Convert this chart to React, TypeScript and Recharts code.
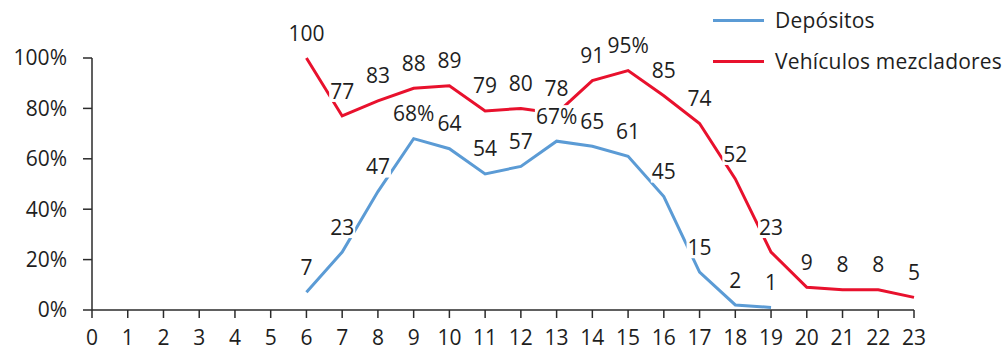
import { LabelList, Line, LineChart, XAxis, YAxis } from "recharts";

const AZUL = "#5b9bd5";
const ROJO = "#e8112d";
const TEXTO = "#1e1e1e";
const FUENTE = "'Open Sans', sans-serif";
const TAM = 21;

const horas = [0, 1, 2, 3, 4, 5, 6, 7, 8, 9, 10, 11, 12, 13, 14, 15, 16, 17, 18, 19, 20, 21, 22, 23];
const depositos = [null, null, null, null, null, null, 7, 23, 47, 68, 64, 54, 57, 67, 65, 61, 45, 15, 2, 1, null, null, null, null];
const mezcladores = [null, null, null, null, null, null, 100, 77, 83, 88, 89, 79, 80, 78, 91, 95, 85, 74, 52, 23, 9, 8, 8, 5];
// horas cuyo rótulo lleva el signo de porcentaje
const pctDepositos = [9, 13];
const pctMezcladores = [15];
const yTicks = [0, 20, 40, 60, 80, 100];

const rotulo = (v: number | null, h: number, pct: number[]) =>
  v == null ? null : pct.includes(h) ? `${v}%` : `${v}`;

const datos = horas.map((h, i) => ({
  hora: h,
  depositos: depositos[i],
  mezcladores: mezcladores[i],
  rotDep: rotulo(depositos[i], h, pctDepositos),
  rotMez: rotulo(mezcladores[i], h, pctMezcladores),
}));

// rótulo con fondo blanco que tapa las líneas que pasan por debajo
function Rotulo(props: any) {
  const { x, y, value } = props;
  if (value == null || x == null || y == null) return null;
  const txt = String(value);
  const w = txt.replace("%", "").length * TAM * 0.572 + (txt.includes("%") ? TAM * 0.83 : 0) + 2;
  const cy = y - 25;
  return (
    <g>
      <rect x={x - w / 2} y={cy - 11} width={w} height={22} fill="#fff" />
      <text x={x} y={cy} dy="0.36em" textAnchor="middle" fontSize={TAM} fontFamily={FUENTE} fill={TEXTO}>
        {txt}
      </text>
    </g>
  );
}

function Leyenda() {
  const filas = [
    { nombre: "Depósitos", color: AZUL, top: 20 },
    { nombre: "Vehículos mezcladores", color: ROJO, top: 61 },
  ];
  return (
    <>
      {filas.map((f) => (
        <div
          key={f.nombre}
          style={{ position: "absolute", left: 713, top: f.top - 15, height: 30, display: "flex", alignItems: "center" }}
        >
          <div style={{ width: 51, height: 3, background: f.color, marginRight: 11 }} />
          <span style={{ fontFamily: FUENTE, fontSize: TAM, color: TEXTO, whiteSpace: "nowrap", letterSpacing: 0.2 }}>
            {f.nombre}
          </span>
        </div>
      ))}
    </>
  );
}

export default function App() {
  const tick = { fontSize: TAM, fontFamily: FUENTE, fill: TEXTO };
  return (
    <div style={{ position: "absolute", left: 0, top: 0, width: 1005, height: 350, background: "#fff", overflow: "hidden" }}>
      <LineChart width={1005} height={350} data={datos} margin={{ top: 58, right: 91, bottom: 0, left: 0 }}>
        <XAxis
          dataKey="hora"
          interval={0}
          height={40}
          tickSize={8}
          tickMargin={12}
          tick={tick}
          stroke="#2b2b2b"
          strokeWidth={1.5}
        />
        <YAxis
          domain={[0, 100]}
          ticks={yTicks}
          tickFormatter={(v) => `${v}%`}
          width={92}
          tickSize={9}
          tickMargin={16}
          tick={tick}
          stroke="#2b2b2b"
          strokeWidth={1.5}
        />
        <Line dataKey="depositos" stroke={AZUL} strokeWidth={3} dot={false} activeDot={false} isAnimationActive={false} />
        <Line dataKey="mezcladores" stroke={ROJO} strokeWidth={3} dot={false} activeDot={false} isAnimationActive={false} />
        {/* capas sin trazo sólo para los rótulos, por encima de ambas líneas */}
        <Line dataKey="depositos" stroke="none" dot={false} activeDot={false} legendType="none" isAnimationActive={false}>
          <LabelList dataKey="rotDep" content={<Rotulo />} />
        </Line>
        <Line dataKey="mezcladores" stroke="none" dot={false} activeDot={false} legendType="none" isAnimationActive={false}>
          <LabelList dataKey="rotMez" content={<Rotulo />} />
        </Line>
      </LineChart>
      <Leyenda />
    </div>
  );
}
